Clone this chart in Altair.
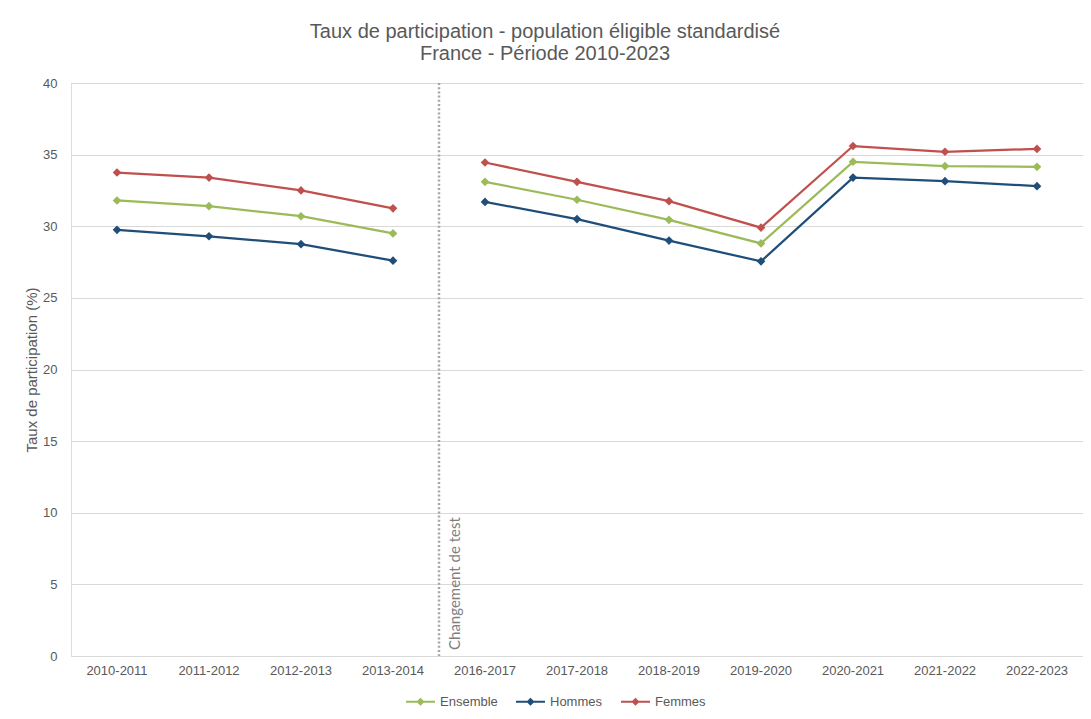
import altair as alt
import pandas as pd

categories = ["2010-2011", "2011-2012", "2012-2013", "2013-2014", "2016-2017",
              "2017-2018", "2018-2019", "2019-2020", "2020-2021", "2021-2022", "2022-2023"]
segments = [1, 1, 1, 1, 2, 2, 2, 2, 2, 2, 2]
ensemble = [31.8, 31.4, 30.7, 29.5, 33.1, 31.85, 30.45, 28.8, 34.5, 34.2, 34.15]
hommes = [29.75, 29.3, 28.75, 27.6, 31.7, 30.5, 29.0, 27.55, 33.4, 33.15, 32.8]
femmes = [33.75, 33.4, 32.5, 31.25, 34.45, 33.1, 31.75, 29.9, 35.6, 35.2, 35.4]
series_names = ["Ensemble", "Hommes", "Femmes"]
series_colors = ["#9BBB59", "#1F4E79", "#C0504D"]
y_ticks = [0, 5, 10, 15, 20, 25, 30, 35, 40]
break_category = "2016-2017"
break_label = "Changement de test"
title_lines = ["Taux de participation - population éligible standardisé",
               "France - Période 2010-2023"]
y_title = "Taux de participation (%)"

rows = []
for name, vals in zip(series_names, [ensemble, hommes, femmes]):
    for c, s, v in zip(categories, segments, vals):
        rows.append({"Période": c, "Série": name, "Segment": s, "Valeur": v})
df = pd.DataFrame(rows)

FONT = "Liberation Sans"
GREY = "#595959"

xscale = alt.Scale(type="band", domain=categories, paddingInner=0, paddingOuter=0)
xaxis = alt.Axis(title=None, labelAngle=0, ticks=False, domain=False, grid=False,
                 labelPadding=8, labelFontSize=13, labelColor=GREY, labelFont=FONT)
yscale = alt.Scale(domain=[0, 40])
yaxis = alt.Axis(values=y_ticks, title=y_title, titleFontSize=15, titleFont=FONT,
                 titleFontWeight="normal", titleColor=GREY, titlePadding=3,
                 labelFontSize=13, labelFont=FONT, labelColor=GREY, labelPadding=14,
                 ticks=False, domain=False, grid=True, gridColor="#D9D9D9", gridWidth=1)

legend_symbol = ("M-1,-0.07L1,-0.07L1,0.07L-1,0.07Z "
                 "M0,-0.28L0.28,0L0,0.28L-0.28,0Z")
legend = alt.Legend(title=None, orient="none", legendX=335, legendY=604,
                    direction="horizontal", symbolType=legend_symbol,
                    symbolSize=841, symbolStrokeWidth=0, symbolOpacity=1,
                    labelFontSize=13, labelFont=FONT, labelColor=GREY,
                    columnPadding=18, labelOffset=5, padding=0)
color = alt.Color("Série:N", scale=alt.Scale(domain=series_names, range=series_colors),
                  legend=legend)

base = alt.Chart(df)

lines = base.mark_line(strokeWidth=2.25).encode(
    x=alt.X("Période:N", scale=xscale, axis=xaxis, bandPosition=0.5),
    y=alt.Y("Valeur:Q", scale=yscale, axis=yaxis),
    color=color,
    detail="Segment:N",
)

points = base.mark_point(shape="diamond", filled=True, size=75, opacity=1).encode(
    x=alt.X("Période:N", scale=xscale, axis=xaxis, bandPosition=0.5),
    y=alt.Y("Valeur:Q", scale=yscale, axis=yaxis),
    color=color,
)

break_df = pd.DataFrame({"Période": [break_category], "Texte": [break_label], "Base": [0]})

rule = alt.Chart(break_df).mark_rule(strokeDash=[2, 2.2], strokeWidth=2.5, color="#A6A6A6").encode(
    x=alt.X("Période:N", scale=xscale, axis=xaxis, bandPosition=0),
)

label = alt.Chart(break_df).mark_text(angle=270, align="left", baseline="middle", dx=6, dy=16,
                                      fontSize=15, font="Lato", color="#7F7F7F").encode(
    x=alt.X("Période:N", scale=xscale, axis=xaxis, bandPosition=0),
    y=alt.Y("Base:Q", scale=yscale, axis=yaxis),
    text="Texte:N",
)

chart = alt.layer(lines, points, rule, label).properties(
    width=1012, height=573,
    title=alt.TitleParams(text=title_lines, fontSize=20, font=FONT, color=GREY,
                          fontWeight="normal", anchor="middle", dx=-32, offset=13,
                          lineHeight=22),
    autosize=alt.AutoSizeParams(type="none"),
    padding={"left": 63, "top": 75, "right": 0, "bottom": 60},
).configure_view(stroke=None).configure(background="white")

chart.save("out.html", embed_options={"renderer": "svg", "actions": False})
